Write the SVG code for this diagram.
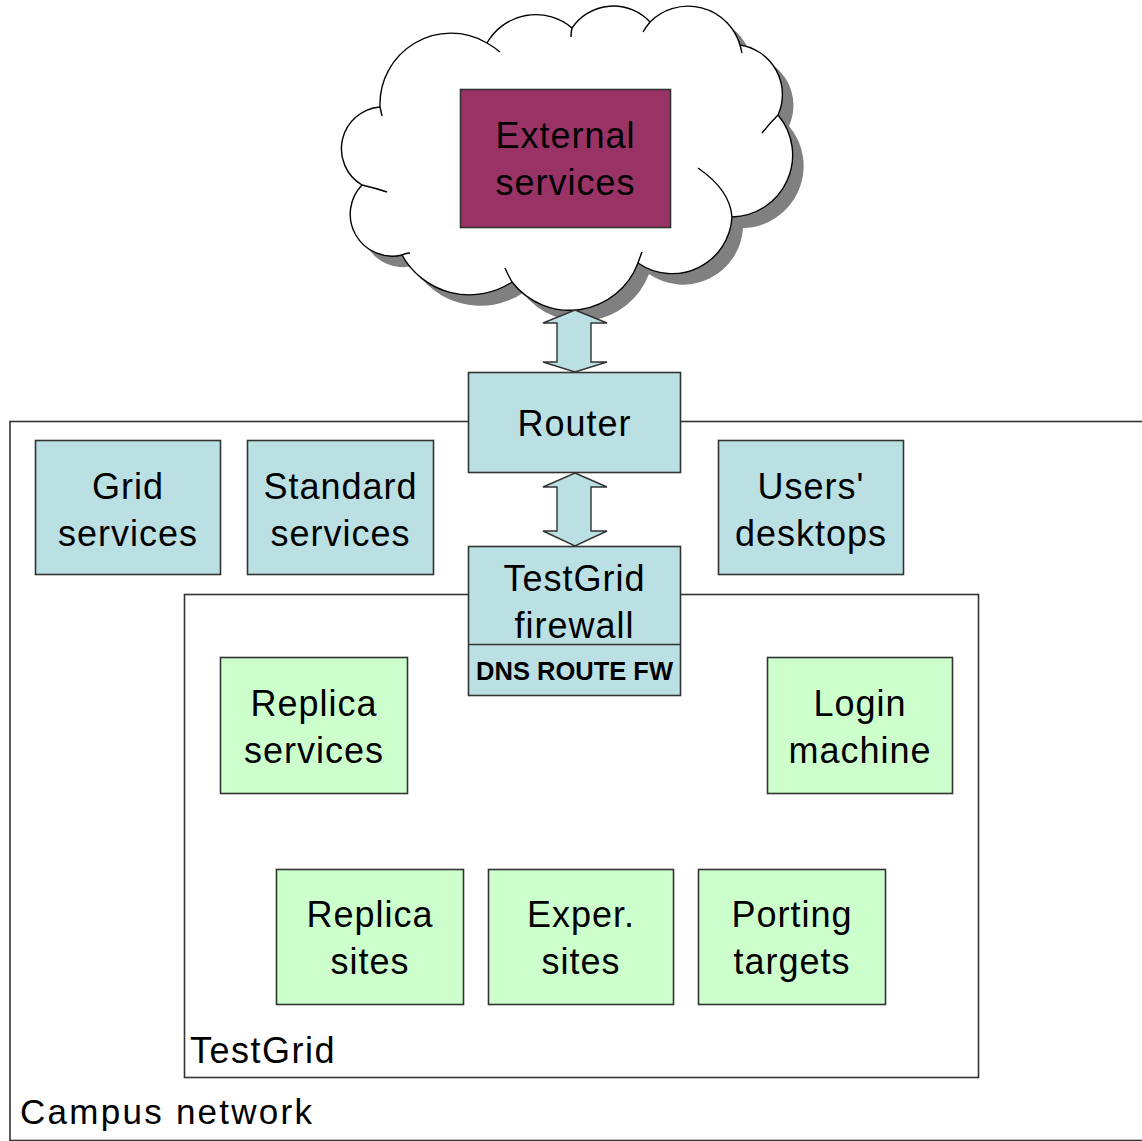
<svg xmlns="http://www.w3.org/2000/svg" width="1142" height="1141" viewBox="0 0 1142 1141">
<style>
.box{stroke:#333;stroke-width:1.6}
.blue{fill:#BBE0E3}
.green{fill:#CCFFCC}
.purple{fill:#993366}
.t{font-family:"Liberation Sans",Arial,sans-serif;font-size:36px;fill:#000;text-anchor:middle;letter-spacing:1px}
.frame{fill:none;stroke:#333;stroke-width:1.6}
.lbl{font-family:"Liberation Sans",Arial,sans-serif;fill:#000}
.arrow{fill:#BBE0E3;stroke:#333;stroke-width:1.4;stroke-linejoin:miter}
.cloud{fill:#fff;stroke:#000;stroke-width:1.4}
.tail{fill:none;stroke:#000;stroke-width:1.4}
</style>
<defs>
<path id="cloudShape" d="M362,185 A42,42 0 0 1 380,107 A71,71 0 0 1 487,43 A56,56 0 0 1 572,28 A50,50 0 0 1 650,22 A54,54 0 0 1 740,45 A50,50 0 0 1 778,115 A62,62 0 0 1 732,217 A60,60 0 0 1 638,263 A73,73 0 0 1 512,282 A77,77 0 0 1 402,255 A42,42 0 0 1 362,185 Z"/>
</defs>
<rect width="1142" height="1141" fill="#fff"/>

<g id="campus">
<rect class="frame" x="10" y="421.5" width="1200" height="719"/>
<text class="lbl" x="20" y="1124" font-size="35" textLength="292" lengthAdjust="spacing">Campus network</text>
</g>

<g id="testgrid">
<rect class="frame" x="184.5" y="594.5" width="794" height="483"/>
<text class="lbl" x="190" y="1063" font-size="36" letter-spacing="1.5">TestGrid</text>
</g>

<g id="cloud">
<use href="#cloudShape" transform="translate(11,11)" fill="#808080"/>
<use href="#cloudShape" class="cloud"/>
<path class="tail" d="M380,107 Q381,111 382,116 M487,43 Q494,47 500,52 M572,28 Q571,32 571,37 M650,22 Q646,27 643,32 M740,45 Q741,49 742,53 M778,115 Q770,123 762,133 M732,217 Q730,190 698,168 M638,263 Q640,257 642,252 M512,282 Q508,275 505,268 M402,255 Q406,253 410,253 M362,185 Q375,188 387,192"/>
</g>

<g id="external-services">
<rect class="box purple" x="460.5" y="89.5" width="210" height="138"/>
<text class="t" x="565.5" y="148">External</text>
<text class="t" x="565.5" y="195">services</text>
</g>

<g id="connectors">
<polygon class="arrow" points="575,310 607,323 591,323 591,362 607,362 575,372 543,362 557,362 557,323 543,323"/>
<polygon class="arrow" points="575,473 607,487 591,487 591,531 607,531 575,546 543,531 557,531 557,487 543,487"/>
</g>

<g id="router">
<rect class="box blue" x="468.5" y="372.5" width="212" height="100"/>
<text class="t" x="574.5" y="436">Router</text>
</g>

<g id="grid-services">
<rect class="box blue" x="35.5" y="440.5" width="185" height="134"/>
<text class="t" x="128" y="499">Grid</text>
<text class="t" x="128" y="546">services</text>
</g>

<g id="standard-services">
<rect class="box blue" x="247.5" y="440.5" width="186" height="134"/>
<text class="t" x="340.5" y="499">Standard</text>
<text class="t" x="340.5" y="546">services</text>
</g>

<g id="users-desktops">
<rect class="box blue" x="718.5" y="440.5" width="185" height="134"/>
<text class="t" x="811" y="499">Users'</text>
<text class="t" x="811" y="546">desktops</text>
</g>

<g id="testgrid-firewall">
<rect class="box blue" x="468.5" y="546.5" width="212" height="149"/>
<line x1="468.5" y1="644.5" x2="680.5" y2="644.5" stroke="#333" stroke-width="1.6"/>
<text class="t" x="574.5" y="591">TestGrid</text>
<text class="t" x="574.5" y="638">firewall</text>
<text class="lbl" x="574.5" y="680" font-size="25.5" font-weight="bold" text-anchor="middle">DNS ROUTE FW</text>
</g>

<g id="replica-services">
<rect class="box green" x="220.5" y="657.5" width="187" height="136"/>
<text class="t" x="314" y="716">Replica</text>
<text class="t" x="314" y="763">services</text>
</g>

<g id="login-machine">
<rect class="box green" x="767.5" y="657.5" width="185" height="136"/>
<text class="t" x="860" y="716">Login</text>
<text class="t" x="860" y="763">machine</text>
</g>

<g id="replica-sites">
<rect class="box green" x="276.5" y="869.5" width="187" height="135"/>
<text class="t" x="370" y="927">Replica</text>
<text class="t" x="370" y="974">sites</text>
</g>

<g id="exper-sites">
<rect class="box green" x="488.5" y="869.5" width="185" height="135"/>
<text class="t" x="581" y="927">Exper.</text>
<text class="t" x="581" y="974">sites</text>
</g>

<g id="porting-targets">
<rect class="box green" x="698.5" y="869.5" width="187" height="135"/>
<text class="t" x="792" y="927">Porting</text>
<text class="t" x="792" y="974">targets</text>
</g>
</svg>
